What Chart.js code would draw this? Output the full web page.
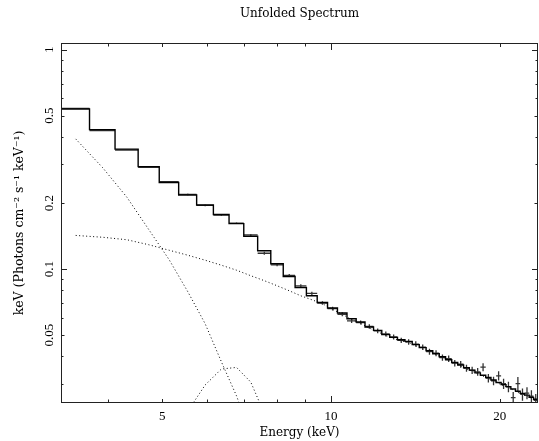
<!DOCTYPE html>
<html>
<head>
<meta charset="utf-8">
<script src="https://cdn.jsdelivr.net/npm/chart.js@4.4.1/dist/chart.umd.min.js"></script>
<style>
  html, body { margin: 0; padding: 0; background: #fff; }
  #wrap { width: 539px; height: 441px; }
</style>
</head>
<body>
<div id="wrap"><canvas id="chart"></canvas></div>
<script>
// energy bin edges (keV)
const binEdges = [3.30, 3.71, 4.12, 4.53, 4.94, 5.35, 5.76, 6.17, 6.58, 6.99,
  7.40, 7.81, 8.22, 8.63, 9.04, 9.45, 9.86, 10.27, 10.68, 11.09,
  11.50, 11.91, 12.32, 12.73, 13.14, 13.55, 13.96, 14.37, 14.78, 15.19,
  15.60, 16.01, 16.42, 16.83, 17.24, 17.65, 18.06, 18.47, 18.88, 19.29,
  19.70, 20.11, 20.52, 20.93, 21.34, 21.75, 22.16, 22.57, 22.98, 23.39];

// total model, keV (Photons cm^-2 s^-1 keV^-1)
const modelFlux = [0.537, 0.432, 0.352, 0.293, 0.248, 0.2175, 0.196, 0.1774, 0.161, 0.141,
  0.1212, 0.1057, 0.0925, 0.0824, 0.0755, 0.0704, 0.0664, 0.0630, 0.0593, 0.0573,
  0.0544, 0.0525, 0.0502, 0.0488, 0.0476, 0.0468, 0.0452, 0.0438, 0.0424, 0.0411,
  0.0398, 0.0386, 0.0375, 0.0365, 0.0355, 0.0346, 0.0336, 0.0328, 0.0320, 0.0312,
  0.0304, 0.0297, 0.0291, 0.0284, 0.0277, 0.0271, 0.0266, 0.0260, 0.0255];

// unfolded data points and their errors
const dataFlux = [0.540, 0.428, 0.349, 0.291, 0.250, 0.219, 0.195, 0.176, 0.162, 0.143,
  0.118, 0.1045, 0.0935, 0.0838, 0.0775, 0.0700, 0.0660, 0.0622, 0.0580, 0.0570,
  0.0547, 0.0522, 0.0506, 0.0490, 0.0473, 0.0465, 0.0455, 0.0440, 0.0420, 0.0413,
  0.0395, 0.0390, 0.0372, 0.0368, 0.0353, 0.0345, 0.0340, 0.0357, 0.0318, 0.0309,
  0.0326, 0.0300, 0.0290, 0.0259, 0.0300, 0.0268, 0.0272, 0.0263, 0.0252];
const dataErr = [0.004, 0.003, 0.003, 0.0025, 0.0022, 0.002, 0.0018, 0.0017, 0.0016, 0.0015,
  0.0018, 0.0016, 0.0015, 0.0014, 0.0013, 0.0013, 0.0013, 0.0013, 0.0012, 0.0012,
  0.0013, 0.0013, 0.0013, 0.0013, 0.0013, 0.0013, 0.0013, 0.0013, 0.0013, 0.0013,
  0.0013, 0.0013, 0.0013, 0.0013, 0.0013, 0.0013, 0.0014, 0.0015, 0.0014, 0.0014,
  0.0016, 0.0016, 0.0016, 0.0016, 0.0022, 0.0017, 0.0017, 0.0017, 0.0017];

// model components (dotted)
const compSteep = [0.392, 0.290, 0.2126, 0.151, 0.1103, 0.0788, 0.0563, 0.0378, 0.0264, 0.0174,
  null, null, null, null, null, null, null, null, null, null,
  null, null, null, null, null, null, null, null, null, null,
  null, null, null, null, null, null, null, null, null, null,
  null, null, null, null, null, null, null, null, null];
const compPowerLaw = [0.1423, 0.1396, 0.1360, 0.1290, 0.1218, 0.1156, 0.1097, 0.1041, 0.0988, 0.0932,
  0.0885, 0.0839, 0.0796, 0.0755, 0.0724, 0.0695, 0.0655, 0.0622, 0.0588, 0.0565,
  0.0538, 0.0518, 0.0497, 0.0482, 0.0470, 0.0462, 0.0447, 0.0433, 0.0420, 0.0407,
  0.0394, 0.0382, 0.0371, 0.0361, 0.0351, 0.0342, 0.0333, 0.0325, 0.0317, 0.0309,
  0.0301, 0.0294, 0.0288, 0.0281, 0.0274, 0.0268, 0.0263, 0.0257, 0.0252];
const compLine = [null, null, null, null, null, 0.0225, 0.0296, 0.0350, 0.0356, 0.0305,
  0.0219, null, null, null, null, null, null, null, null, null,
  null, null, null, null, null, null, null, null, null, null,
  null, null, null, null, null, null, null, null, null, null,
  null, null, null, null, null, null, null, null, null];

const xLabelTicks = [5, 10, 20];
const xMinorTicks = [4, 6, 7, 8, 9];
const yLabelTicks = [0.05, 0.1, 0.2, 0.5, 1];
const yMinorTicks = [0.03, 0.04, 0.06, 0.07, 0.08, 0.09, 0.3, 0.4, 0.6, 0.7, 0.8, 0.9];

let centres = modelFlux.map((v, i) => (binEdges[i] + binEdges[i + 1]) / 2);

let modelSteps = [];
modelFlux.forEach((v, i) => {
  modelSteps.push({x: binEdges[i], y: v}, {x: binEdges[i + 1], y: v});
});

let crosses = [];
dataFlux.forEach((v, i) => {
  crosses.push({x: binEdges[i], y: v}, {x: binEdges[i + 1], y: v}, {x: centres[i], y: null});
  crosses.push({x: centres[i], y: v - dataErr[i]}, {x: centres[i], y: v + dataErr[i]}, {x: centres[i], y: null});
});

let toPoints = arr => arr.map((v, i) => ({x: centres[i], y: v}));

const serif = "'Liberation Serif', 'Times New Roman', serif";

// PGPLOT-like box: inward ticks on all sides, rotated y labels, title
const frame = {
  id: "frame",
  afterDraw(chart) {
    let ctx = chart.ctx;
    let a = chart.chartArea;
    let x = chart.scales.x, y = chart.scales.y;
    ctx.save();
    ctx.strokeStyle = "#222";
    ctx.lineWidth = 1;
    ctx.strokeRect(a.left + 0.5, a.top + 0.5, a.right - a.left - 1, a.bottom - a.top - 1);

    ctx.beginPath();
    let xt = (v, len) => {
      let px = Math.round(x.getPixelForValue(v)) + 0.5;
      ctx.moveTo(px, a.bottom); ctx.lineTo(px, a.bottom - len);
      ctx.moveTo(px, a.top); ctx.lineTo(px, a.top + len);
    };
    let yt = (v, len) => {
      let py = Math.round(y.getPixelForValue(v)) + 0.5;
      ctx.moveTo(a.left, py); ctx.lineTo(a.left + len, py);
      ctx.moveTo(a.right, py); ctx.lineTo(a.right - len, py);
    };
    xLabelTicks.forEach(v => xt(v, v === 10 ? 7 : 4));
    xMinorTicks.forEach(v => xt(v, 3.5));
    yLabelTicks.forEach(v => yt(v, (v === 1 || v === 0.1) ? 6 : 3.5));
    yMinorTicks.forEach(v => yt(v, 2.5));
    ctx.stroke();

    ctx.fillStyle = "#000";
    ctx.font = "13px " + serif;
    ctx.textAlign = "center";
    ctx.textBaseline = "middle";
    yLabelTicks.forEach(v => {
      ctx.save();
      ctx.translate(49.5, y.getPixelForValue(v));
      ctx.rotate(-Math.PI / 2);
      ctx.fillText(String(v), 0, 0);
      ctx.restore();
    });

    ctx.font = "12px 'DejaVu Serif', serif";
    ctx.fillText("Unfolded Spectrum", (a.left + a.right) / 2, 14);
    ctx.restore();
  }
};

let ctx = document.getElementById("chart").getContext("2d");

let chart = new Chart(ctx, {
  type: "scatter",
  data: {
    datasets: [
      {
        label: "model",
        data: modelSteps,
        showLine: true,
        borderColor: "#000",
        borderWidth: 1.4,
        pointRadius: 0
      },
      {
        label: "data",
        data: crosses,
        showLine: true,
        spanGaps: false,
        borderColor: "#333",
        borderWidth: 1.3,
        pointRadius: 0
      },
      {
        label: "steep",
        data: toPoints(compSteep),
        showLine: true,
        borderColor: "#000",
        borderWidth: 1,
        borderDash: [1, 2.5],
        pointRadius: 0
      },
      {
        label: "powerlaw",
        data: toPoints(compPowerLaw),
        showLine: true,
        borderColor: "#000",
        borderWidth: 1,
        borderDash: [1, 2.5],
        pointRadius: 0
      },
      {
        label: "line",
        data: toPoints(compLine),
        showLine: true,
        spanGaps: false,
        borderColor: "#000",
        borderWidth: 1,
        borderDash: [1, 2.5],
        pointRadius: 0
      }
    ]
  },
  options: {
    responsive: true,
    maintainAspectRatio: false,
    animation: false,
    devicePixelRatio: 1,
    layout: { padding: { top: 43, right: 1, left: 0, bottom: 0 } },
    plugins: {
      legend: { display: false },
      tooltip: { enabled: false }
    },
    scales: {
      x: {
        type: "logarithmic",
        min: 3.3,
        max: 23.4,
        border: { display: false },
        grid: { display: false, drawTicks: false },
        afterBuildTicks: s => { s.ticks = xLabelTicks.map(v => ({value: v})); },
        afterFit: s => { s.height = 38; },
        ticks: {
          padding: 6,
          color: "#000",
          maxRotation: 0,
          autoSkip: false,
          font: { family: serif, size: 13 },
          callback: v => String(v)
        },
        title: {
          display: true,
          text: "Energy (keV)",
          color: "#000",
          font: { family: "'DejaVu Serif', serif", size: 12 },
          padding: { top: 0, bottom: 1 }
        }
      },
      y: {
        type: "logarithmic",
        min: 0.0245,
        max: 1.073,
        border: { display: false },
        grid: { display: false, drawTicks: false },
        afterFit: s => { s.width = 61; },
        ticks: { display: false },
        title: {
          display: true,
          text: "keV (Photons cm\u207B\u00B2 s\u207B\u00B9 keV\u207B\u00B9)",
          color: "#000",
          font: { family: "'DejaVu Serif', serif", size: 12.5 },
          padding: { top: 12, bottom: 0 }
        }
      }
    }
  },
  plugins: [frame]
});
</script>
</body>
</html>
